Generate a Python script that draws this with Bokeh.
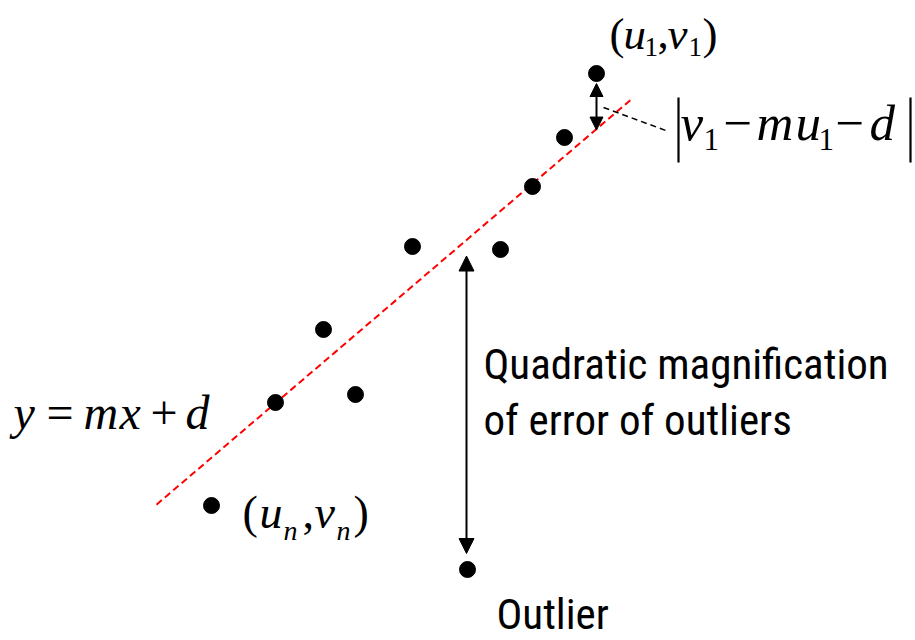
from bokeh.plotting import figure
from bokeh.models import Range1d, Arrow, NormalHead
from bokeh.core.properties import value
from bokeh.embed import file_html
from bokeh.resources import INLINE

# Observed points (u_i, v_i); index 0 is (u1, v1), index 8 is (un, vn), index 9 the outlier
u = [596, 564, 532, 412, 500, 323, 275, 355, 211, 467]
v = [73, 137, 186, 246, 249, 329, 402, 394, 505, 569]

# Fitted line y = m x + d, drawn over this span of x
m = -0.8536
d = 637.3
line_x = [156, 633]

# x position of the outlier-error arrow
outlier_arrow_x = 466

W, H = 915, 640
p = figure(width=W, height=H, output_backend="svg", toolbar_location=None,
           x_range=Range1d(0, W), y_range=Range1d(H, 0), min_border=0)
p.axis.visible = False
p.grid.visible = False
p.outline_line_color = None
p.background_fill_color = "white"

# fitted line
p.line(line_x, [m * x + d for x in line_x], line_color="red", line_width=2,
       line_dash="7 4")

# data points
p.scatter(u, v, size=16, color="black")


def head(size):
    return NormalHead(size=size, fill_color="black", line_color="black", line_width=1)


# residual of (u1, v1): double-headed arrow between the point and the line
fit_u1 = m * u[0] + d
p.add_layout(Arrow(x_start=u[0], y_start=v[0] + 10, x_end=u[0], y_end=fit_u1 + 1,
                   line_width=2, start=head(13), end=head(13)))
p.line([603, 668], [107, 131], line_color="black", line_width=1.5, line_dash="6 4")

# outlier error arrow
fit_out = m * outlier_arrow_x + d
p.add_layout(Arrow(x_start=outlier_arrow_x, y_start=fit_out + 16,
                   x_end=outlier_arrow_x, y_end=v[9] - 16, line_width=2,
                   start=head(15), end=head(15)))

SERIF = value("Liberation Serif")
NARROW = value("Roboto Condensed")

# texts are anchored at their vertical middle; shift so that y is the baseline
BASE_SHIFT = 0.375


def write(txt, x, y, size, font, style="normal"):
    p.text([x], [y - BASE_SHIFT * size], text=[txt], text_font=font,
           text_font_size=f"{size}px", text_font_style=style, text_align="left",
           text_baseline="middle", text_color="black")


def put(parts):
    for txt, x, y, size, style in parts:
        write(txt, x, y, size, SERIF, style)


# (u1, v1)
put([("(", 609, 50, 45, "normal"), ("u", 623, 50, 45, "italic"),
     ("1", 644, 57, 27, "normal"), (",", 657, 50, 45, "normal"),
     ("v", 667, 50, 45, "italic"), ("1", 688, 57, 27, "normal"),
     (")", 702, 50, 45, "normal")])

# |v1 - m u1 - d|
p.segment([678, 910], [97, 97], [678, 910], [162, 162], line_color="black",
          line_width=2.2)
put([("v", 680, 142, 51, "italic"), ("1", 703, 151, 31, "normal"),
     ("\u2212", 723, 142, 51, "normal"), ("m", 756, 142, 51, "italic"),
     ("u", 795, 142, 51, "italic"), ("1", 818, 151, 31, "normal"),
     ("\u2212", 835, 142, 51, "normal"), ("d", 869, 142, 51, "italic")])

# y = mx + d
put([("y", 13, 430, 48, "italic"), ("=", 46, 430, 48, "normal"),
     ("m", 83, 430, 48, "italic"), ("x", 119, 430, 48, "italic"),
     ("+", 150, 430, 48, "normal"), ("d", 185, 430, 48, "italic")])

# (un, vn)
put([("(", 242, 529, 46, "normal"), ("u", 259, 529, 46, "italic"),
     ("n", 283, 540, 28, "italic"), (",", 302, 529, 46, "normal"),
     ("v", 314, 529, 46, "italic"), ("n", 336, 540, 28, "italic"),
     (")", 353, 529, 46, "normal")])

# plain-language annotations
for txt, x, y in [("Quadratic magnification", 483, 380),
                  ("of error of outliers", 483, 436),
                  ("Outlier", 496, 630)]:
    write(txt, x, y, 43, NARROW)

open("out.html", "w").write(file_html(p, INLINE))
